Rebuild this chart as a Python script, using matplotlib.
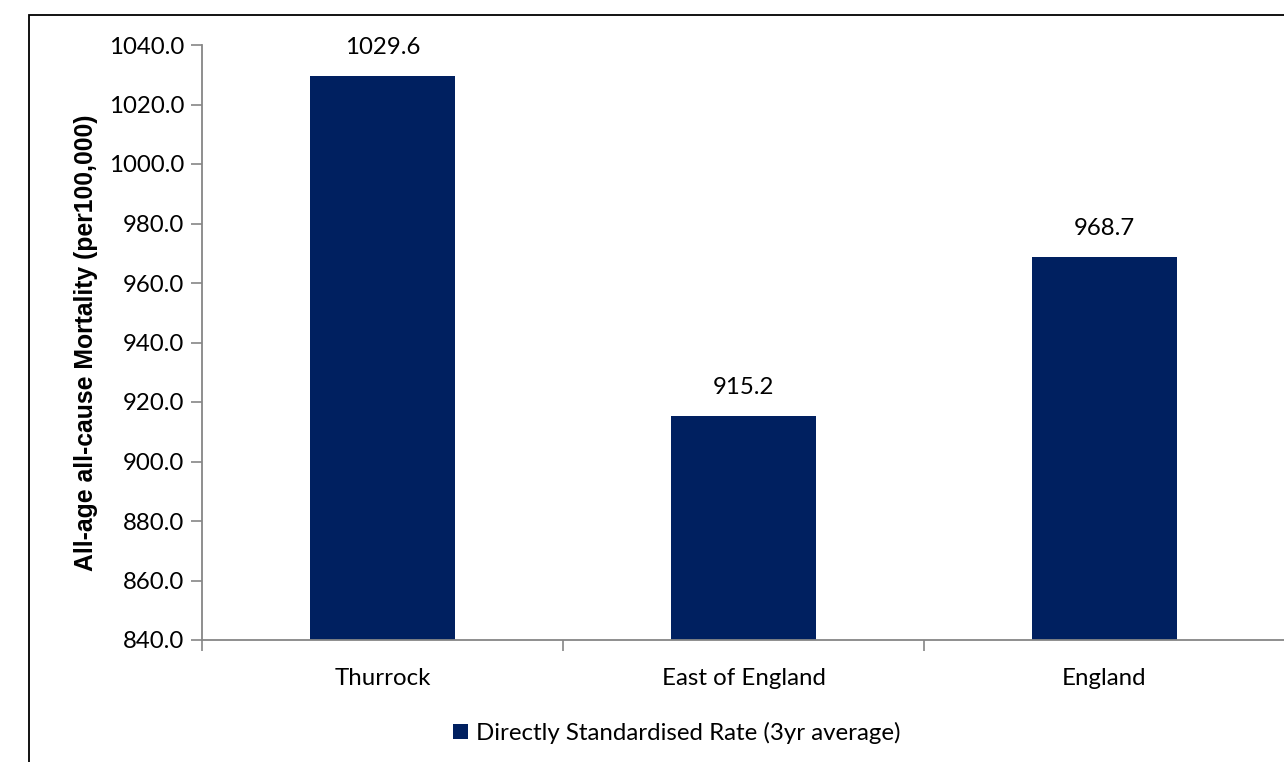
import matplotlib
matplotlib.use("Agg")
import matplotlib.pyplot as plt
from matplotlib.patches import Rectangle

categories = ["Thurrock", "East of England", "England"]
values = [1029.6, 915.2, 968.7]
series_name = "Directly Standardised Rate (3yr average)"
ylabel = "All-age all-cause Mortality (per100,000)"
yticks = [840, 860, 880, 900, 920, 940, 960, 980, 1000, 1020, 1040]

W, H = 1284, 762
fig = plt.figure(figsize=(W / 100, H / 100), dpi=100)
plt.rcParams['font.family'] = ['Lato', 'DejaVu Sans']

bar_color = "#002060"
spine_color = "#868686"
fs = 17.3

# outer frame
fig.patches.append(Rectangle((29 / W, -0.1), 1.2, 1 - 15 / H + 0.1,
                             transform=fig.transFigure, fill=False,
                             edgecolor="black", linewidth=1.3))

left, right = 202 / W, 1285 / W
top, bottom = 1 - 45 / H, 1 - 640 / H
ax = fig.add_axes([left, bottom, right - left, top - bottom])

x = list(range(len(categories)))
bars = ax.bar(x, values, width=0.4, color=bar_color, label=series_name, zorder=2)
ax.set_xlim(-0.5, len(categories) - 0.5)
ax.set_ylim(840, 1040)
ax.set_yticks(yticks)
ax.set_yticklabels([f"{v:.1f}" for v in yticks], fontsize=fs)

ax.set_xticks(x)
ax.set_xticklabels(categories, fontsize=fs)
ax.tick_params(axis='x', which='major', length=0, pad=20)
ax.set_xticks([-0.5 + i for i in range(len(categories) + 1)], minor=True)
ax.tick_params(axis='x', which='minor', length=8, width=1.2, color=spine_color, direction='out')
ax.tick_params(axis='y', length=8, width=1.2, color=spine_color, direction='out', pad=5)

for s in ['top', 'right']:
    ax.spines[s].set_visible(False)
for s in ['left', 'bottom']:
    ax.spines[s].set_color(spine_color)
    ax.spines[s].set_linewidth(1.3)

for xi, v in zip(x, values):
    ax.annotate(f"{v:.1f}", (xi, v), xytext=(0, 18), textcoords='offset pixels',
                ha='center', va='bottom', fontsize=fs)

ax.set_ylabel(ylabel, fontsize=17.8, fontweight='bold', family=['Liberation Sans', 'DejaVu Sans'])
ax.yaxis.set_label_coords((98 - 202) / (1285 - 202), 0.5)

fig.legend(handles=[bars], labels=[series_name], loc='center',
           bbox_to_anchor=(677 / W, 1 - 733 / H), frameon=False, fontsize=fs,
           handlelength=0.6, handleheight=0.6, handletextpad=0.35)

fig.savefig("out.png", dpi=100)
